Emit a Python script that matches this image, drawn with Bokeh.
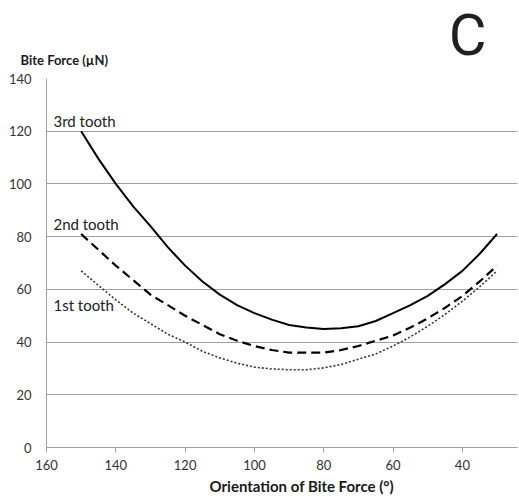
from bokeh.plotting import figure
from bokeh.models import Range1d, FixedTicker, Label, Title
from bokeh.embed import file_html
from bokeh.resources import INLINE

# Orientation of bite force (degrees)
angle = [150, 145, 140, 135, 130, 125, 120, 115, 110, 105, 100, 95, 90,
         85, 80, 75, 70, 65, 60, 55, 50, 45, 40, 35, 30]
# Bite force (uN) per tooth
tooth3 = [120, 109.5, 100, 91.5, 84, 76, 69, 63, 58, 54, 51, 48.5, 46.5,
          45.5, 45, 45.2, 46, 48, 51, 54, 57.5, 62, 67, 73.5, 81]
tooth2 = [81, 75, 69, 63.5, 58, 54, 50, 46.5, 43, 40.5, 38.5, 37, 36,
          36, 36, 37, 38.5, 40.5, 42.5, 45.5, 49, 53, 57.5, 63, 69]
tooth1 = [67, 61.5, 56, 51, 47, 43, 40, 36.5, 34, 32, 30.5, 29.8, 29.5,
          29.5, 30.2, 31.5, 33.5, 35.5, 38.5, 42, 46, 50.5, 55.5, 61, 67]
series_names = ["3rd tooth", "2nd tooth", "1st tooth"]
x_ticks = [160, 140, 120, 100, 80, 60, 40]
y_ticks = [0, 20, 40, 60, 80, 100, 120, 140]

FONT = "Lato"
GRID = "#a0a0a0"

p = figure(width=519, height=498, output_backend="svg", toolbar_location=None,
           x_range=Range1d(160, 24.1), y_range=Range1d(0, 140),
           min_border_left=46, min_border_right=2, min_border_top=78,
           min_border_bottom=51)
p.outline_line_color = None
p.background_fill_color = "white"
p.border_fill_color = "white"

# outer title: panel letter
p.title.text = "C"
p.title.align = "right"
p.title.offset = 31
p.title.vertical_align = "bottom"
p.title.standoff = -61
p.title.text_font = "Roboto"
p.title.text_font_style = "normal"
p.title.text_font_size = "58px"
p.title.text_color = "#231f20"

# inner title: y-axis name
p.add_layout(Title(text="Bite Force (µN)", align="left", offset=-26,
                   standoff=22, text_font=FONT, text_font_style="bold",
                   text_font_size="13px", text_color="#1a1a1a"), "above")

# axes
p.xaxis.ticker = FixedTicker(ticks=x_ticks)
p.yaxis.ticker = FixedTicker(ticks=y_ticks)
for ax in (p.xaxis[0], p.yaxis[0]):
    ax.axis_line_color = GRID
    ax.major_tick_line_color = GRID
    ax.minor_tick_line_color = None
    ax.major_label_text_font = FONT
    ax.major_label_text_font_size = "13px"
    ax.major_label_text_color = "#333333"
p.yaxis.major_tick_out = 0
p.yaxis.major_tick_in = 0
p.yaxis.major_label_standoff = 15
p.xaxis.major_tick_out = 5
p.xaxis.major_tick_in = 0
p.xaxis.major_label_standoff = 7

# x-axis name (placed below the axis, shifted right as in the original)
p.add_layout(Title(text="Orientation of Bite Force (°)", align="left",
                   offset=163, vertical_align="bottom", standoff=4,
                   text_font=FONT, text_font_style="bold",
                   text_font_size="15px", text_color="#1a1a1a"), "below")

p.xgrid.visible = False
p.ygrid.grid_line_color = GRID
p.ygrid.grid_line_width = 1

# curves
p.line(angle, tooth3, line_color="black", line_width=2)
p.line(angle, tooth2, line_color="black", line_width=2.2, line_dash="9 5")
p.line(angle, tooth1, line_color="#333333", line_width=1.6, line_dash="2 2")

# labels
for name, ly in zip(series_names, [123.8, 84.7, 53.9]):
    p.add_layout(Label(x=158, y=ly, text=name, text_font=FONT,
                       text_font_size="15px", text_color="#222222",
                       text_baseline="middle", text_align="left"))

open("out.html", "w").write(file_html(p, INLINE))
